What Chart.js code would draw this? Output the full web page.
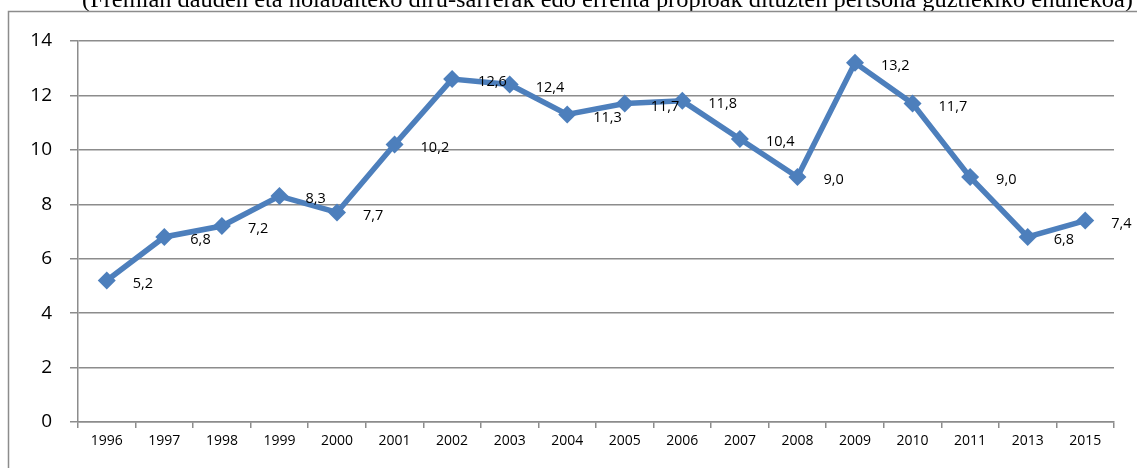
<!DOCTYPE html>
<html>
<head>
<meta charset="utf-8">
<script src="https://cdn.jsdelivr.net/npm/chart.js@4.4.1/dist/chart.umd.min.js"></script>
<style>
  html, body { margin: 0; padding: 0; background: #fff; }
  #wrap { width: 1137px; height: 468px; position: relative; }
</style>
</head>
<body>
<div id="wrap"><canvas id="chart"></canvas></div>
<script>
const years = ["1996", "1997", "1998", "1999", "2000", "2001", "2002", "2003", "2004",
  "2005", "2006", "2007", "2008", "2009", "2010", "2011", "2013", "2015"];
const rates = [5.2, 6.8, 7.2, 8.3, 7.7, 10.2, 12.6, 12.4, 11.3, 11.7, 11.8, 10.4, 9.0, 13.2, 11.7, 9.0, 6.8, 7.4];
const titleText = "(Fremian dauden eta nolabaiteko diru-sarrerak edo errenta propioak dituzten pertsona guztiekiko ehunekoa)";

const lineColor = "#4d7fbc";
const gridColor = "#8c8c8c";

// title (clipped at the top) and the outer frame
const framePlugin = {
  id: "frame",
  afterDraw(chart) {
    const ctx = chart.ctx;
    ctx.save();
    ctx.font = "24px 'Liberation Serif'";
    ctx.fillStyle = "#000";
    ctx.textAlign = "left";
    ctx.textBaseline = "alphabetic";
    const w = ctx.measureText(titleText).width;
    // stretch to the width the reference title spans
    ctx.translate(82, 7);
    ctx.scale(1051 / w, 1);
    ctx.fillText(titleText, 0, 0);
    ctx.restore();
    ctx.save();
    ctx.strokeStyle = gridColor;
    ctx.lineWidth = 1.5;
    ctx.beginPath();
    ctx.moveTo(8.5, 468);
    ctx.lineTo(8.5, 11.5);
    ctx.lineTo(1137, 11.5);
    ctx.stroke();
    ctx.restore();
  }
};

// value labels to the right of each point, comma decimals
const labelPlugin = {
  id: "valueLabels",
  afterDatasetsDraw(chart) {
    const ctx = chart.ctx;
    const meta = chart.getDatasetMeta(0);
    ctx.save();
    ctx.font = "14.5px 'Open Sans'";
    ctx.fillStyle = "#000";
    ctx.textAlign = "left";
    ctx.textBaseline = "middle";
    meta.data.forEach((pt, i) => {
      const txt = rates[i].toFixed(1).replace(".", ",");
      ctx.fillText(txt, pt.x + 26, pt.y + 3);
    });
    ctx.restore();
  }
};

new Chart(document.getElementById("chart"), {
  type: "line",
  data: {
    labels: years,
    datasets: [{
      data: rates,
      borderColor: lineColor,
      backgroundColor: lineColor,
      borderWidth: 5.5,
      pointStyle: "rectRot",
      pointRadius: 9,
      pointBorderWidth: 0,
      pointBackgroundColor: lineColor,
      tension: 0
    }]
  },
  options: {
    responsive: true,
    maintainAspectRatio: false,
    animation: false,
    events: [],
    layout: { padding: { top: 41, right: 23, left: 0, bottom: 0 } },
    plugins: {
      legend: { display: false },
      tooltip: { enabled: false }
    },
    scales: {
      x: {
        offset: true,
        grid: {
          offset: true,
          drawOnChartArea: false,
          drawTicks: true,
          tickLength: 6,
          color: gridColor,
          lineWidth: 1.5
        },
        border: { display: true, color: gridColor, width: 1.5 },
        ticks: {
          font: { family: "Open Sans", size: 14 },
          color: "#000",
          maxRotation: 0,
          autoSkip: false,
          padding: 5
        },
        afterFit(scale) { scale.height = 46; }
      },
      y: {
        min: 0,
        max: 14,
        ticks: {
          stepSize: 2,
          font: { family: "Open Sans", size: 19 },
          color: "#000",
          padding: 18
        },
        grid: {
          color: gridColor,
          lineWidth: 1.5,
          tickLength: 8
        },
        border: { display: true, color: gridColor, width: 1.5 },
        afterFit(scale) { scale.width = 78; }
      }
    }
  },
  plugins: [framePlugin, labelPlugin]
});
</script>
</body>
</html>
